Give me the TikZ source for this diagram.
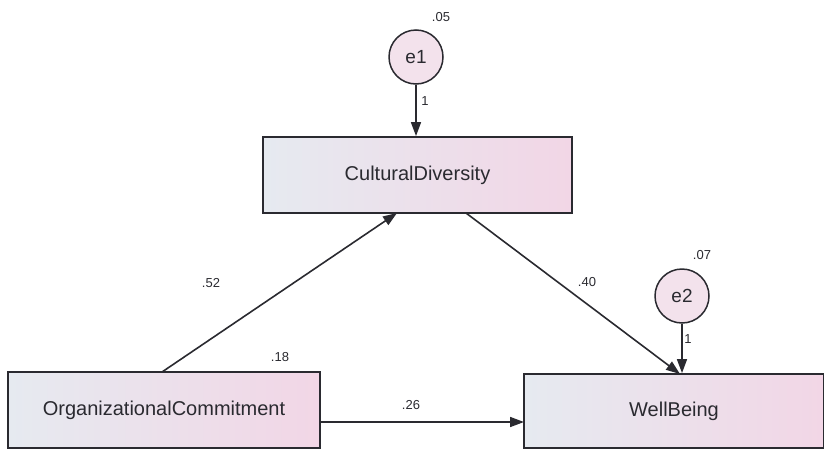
\documentclass[tikz,border=0pt]{standalone}
\usepackage{fontspec}
\setmainfont{Liberation Sans}
\usetikzlibrary{arrows.meta}
\definecolor{boxleft}{HTML}{E6EAF0}
\definecolor{boxright}{HTML}{F2D6E6}
\definecolor{errfill}{HTML}{F3E2EC}
\definecolor{ink}{HTML}{2A2A30}
\begin{document}
\begin{tikzpicture}[x=1pt,y=-1pt,
  obs/.style={draw=ink,line width=1.8pt,left color=boxleft,right color=boxright,
    minimum width=309pt,minimum height=76pt,inner sep=0pt,font=\fontsize{20}{20}\selectfont,text=ink},
  err/.style={circle,draw=ink,line width=1.5pt,fill=errfill,minimum size=54pt,inner sep=0pt,
    font=\fontsize{19}{19}\selectfont,text=ink},
  path/.style={draw=ink,line width=1.6pt,-{Triangle[length=14pt,width=10pt]}},
  lab/.style={font=\fontsize{13}{13}\selectfont,text=ink,inner sep=0pt}]
\useasboundingbox (0,0) rectangle (824,450);
\node[obs] (cd) at (417.5,175) {CulturalDiversity};
\node[obs,minimum width=312pt] (oc) at (164,410) {OrganizationalCommitment};
\node[obs,minimum width=300pt,minimum height=74pt] (wb) at (674,411) {WellBeing};
\node[err] (e1) at (416,57) {e1};
\node[err] (e2) at (682,296) {e2};
\draw[path] (e1) -- (cd.north -| e1);
\draw[path] (e2) -- (wb.north -| e2);
\coordinate (ocs) at (162,372);
\coordinate (cde) at (397,213);
\coordinate (cds) at (466,213);
\coordinate (wbe) at (680,374);
\coordinate (ocr) at (320,422);
\coordinate (wbl) at (524,422);
\draw[path] (ocs) -- (cde);
\draw[path] (cds) -- (wbe);
\draw[path] (ocr) -- (wbl);
\node[lab] (l05) at (441,17) {.05};
\node[lab] (l07) at (702,255) {.07};
\node[lab] (l18) at (280,357) {.18};
\node[lab] (l1a) at (425,101) {1};
\node[lab] (l1b) at (688,339) {1};
\node[lab] (l52) at (211,283) {.52};
\node[lab] (l40) at (587,282) {.40};
\node[lab] (l26) at (411,405) {.26};
\end{tikzpicture}
\end{document}
